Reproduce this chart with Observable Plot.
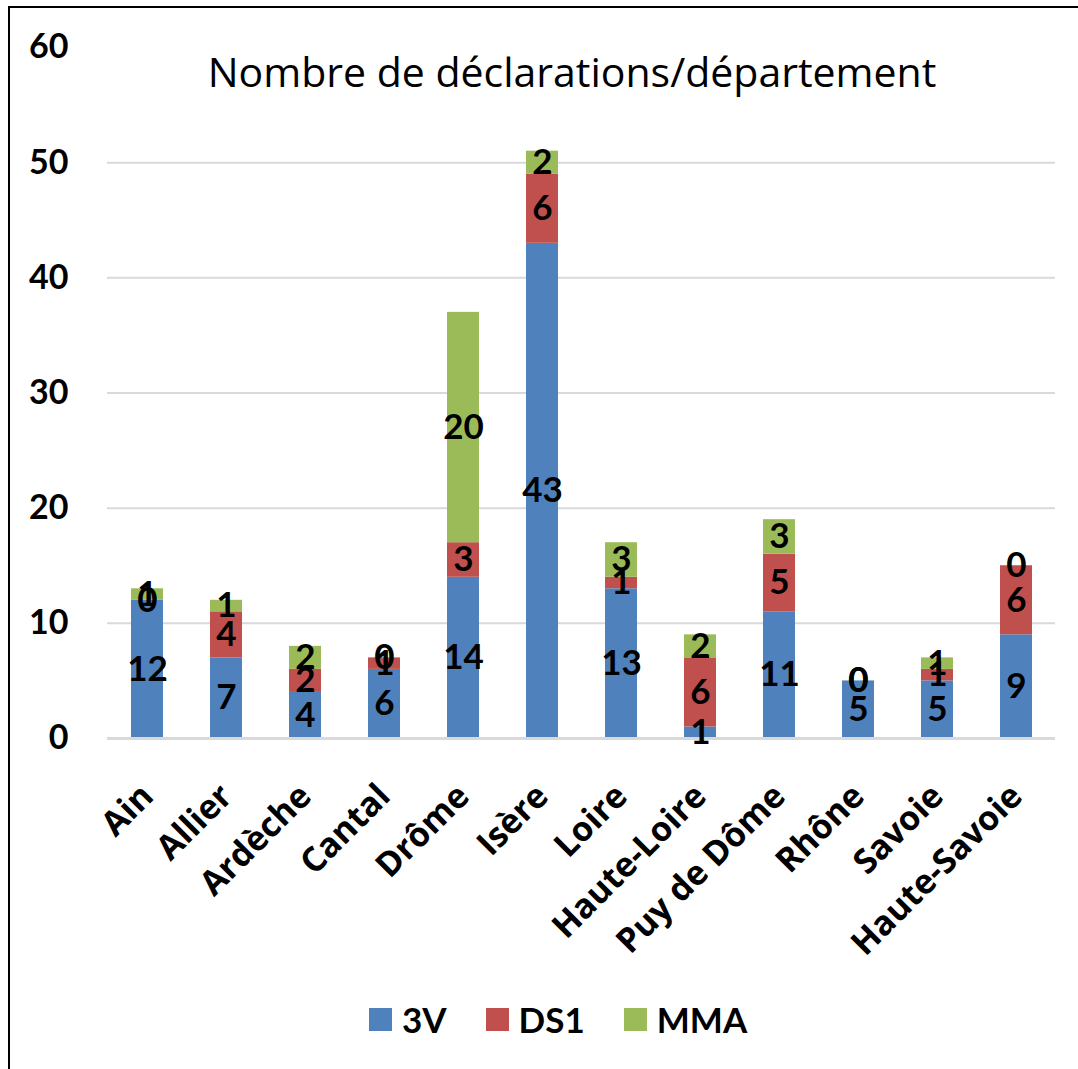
<!DOCTYPE html>
<html><head><meta charset="utf-8">
<script src="https://cdn.jsdelivr.net/npm/d3@7"></script>
<script src="https://cdn.jsdelivr.net/npm/@observablehq/plot@0.6"></script>
<style>
body{margin:0;background:#fff;font-family:Lato,sans-serif;}
#wrap{position:relative;width:1078px;height:1069px;overflow:hidden;background:#fff}
#frame{position:absolute;left:8px;top:6px;width:1200px;height:1200px;border-left:2.5px solid #000;border-top:2.5px solid #000;box-sizing:border-box}
#chart{position:absolute;left:0;top:0}
#title{position:absolute;left:0;width:1144px;top:51px;text-align:center;font-family:"Open Sans",sans-serif;font-size:41px;font-weight:normal;color:#000;line-height:1;white-space:nowrap}
#legend{position:absolute;top:1002px;left:369px;display:flex;align-items:center;font-size:35px;font-weight:bold;color:#000;line-height:1}
.item{display:flex;align-items:center;margin-right:39px}
.sw{width:23px;height:23px;margin-right:10px}
</style>
</head><body>
<div id="wrap">
  <div id="frame"></div>
  <div id="chart"></div>
  <div id="title">Nombre de déclarations/département</div>
  <div id="legend"></div>
</div>
<script>
const categories = ["Ain","Allier","Ardèche","Cantal","Drôme","Isère","Loire","Haute-Loire","Puy de Dôme","Rhône","Savoie","Haute-Savoie"];
const series = ["3V","DS1","MMA"];
const colors = ["#4F81BD","#C0504D","#9BBB59"];
const values3V  = [12,7,4,6,14,43,13,1,11,5,5,9];
const valuesDS1 = [0,4,2,1,3,6,1,6,5,0,1,6];
const valuesMMA = [1,1,2,0,20,2,3,2,3,0,1,0];
const yTicks = [0,10,20,30,40,50,60];

const seriesValues = [values3V, valuesDS1, valuesMMA];
const rows = [];
series.forEach((s, i) => categories.forEach((c, j) => rows.push({dep: c, serie: s, value: seriesValues[i][j]})));

const chart = Plot.plot({
  width: 1078, height: 1069,
  marginLeft: 107, marginRight: 23, marginTop: 47, marginBottom: 331,
  style: {fontFamily: "Lato, sans-serif", background: "transparent", color: "#000"},
  x: {domain: categories, paddingInner: 0.595, paddingOuter: 0.2975, label: null},
  y: {domain: [0, 60], label: null},
  color: {domain: series, range: colors},
  marks: [
    Plot.ruleY(yTicks.filter(t => t > 0 && t < 60), {stroke: "#d9d9d9", strokeWidth: 2}),
    Plot.barY(rows, {x: "dep", y: "value", fill: "serie", order: series}),
    Plot.ruleY([0], {stroke: "#d9d9d9", strokeWidth: 3}),
    Plot.text(rows, Plot.stackY({x: "dep", y: "value", z: "serie", order: series, text: d => String(d.value), fontSize: 35, fontWeight: "bold", fill: "#000"})),
    Plot.axisY({ticks: yTicks, tickSize: 0, tickPadding: 39, fontSize: 34, fontWeight: "bold", label: null}),
    Plot.axisX({tickRotate: -45, tickSize: 0, tickPadding: 52, fontSize: 34, fontWeight: "bold", fontFamily: "Open Sans, sans-serif", label: null})
  ]
});
document.getElementById("chart").appendChild(chart);

const legend = document.getElementById("legend");
series.forEach((s, i) => {
  const item = document.createElement("div"); item.className = "item";
  const sw = document.createElement("span"); sw.className = "sw"; sw.style.background = colors[i];
  const lab = document.createElement("span"); lab.textContent = s;
  item.appendChild(sw); item.appendChild(lab); legend.appendChild(item);
});
</script>
</body></html>
